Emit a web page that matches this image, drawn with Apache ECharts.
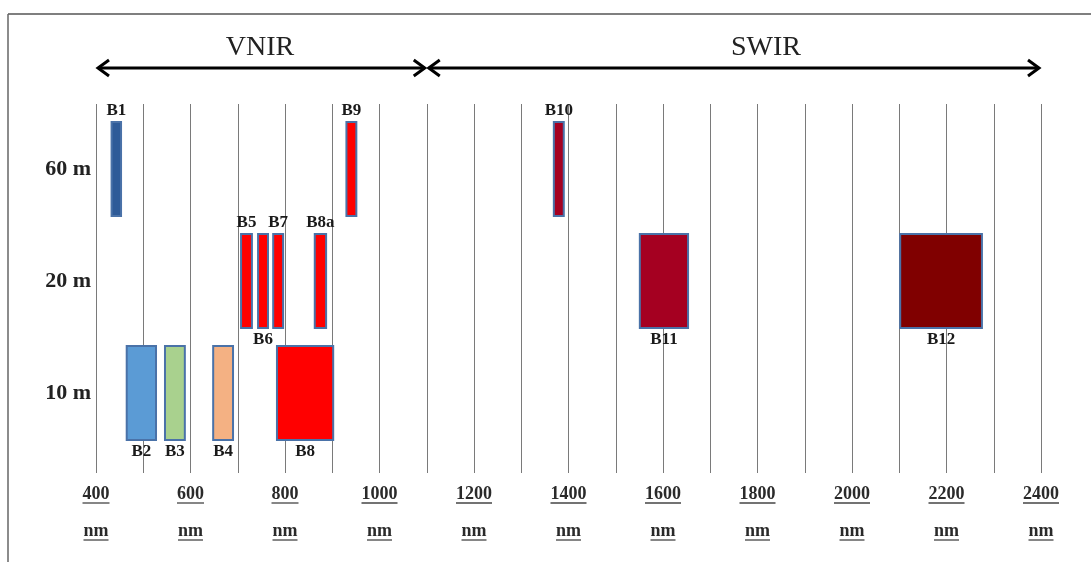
<!DOCTYPE html>
<html lang="en">
<head>
<meta charset="UTF-8">
<title>Sentinel-2 MSI bands</title>
<style>html,body{margin:0;padding:0;background:#fff}</style>
</head>
<body>
<div id="main" style="width:1091px;height:562px"></div>
<script src="https://cdn.jsdelivr.net/npm/echarts@6/dist/echarts.min.js"></script>
<script>
// spatial resolution rows (bottom to top)
var rows = ['10 m', '20 m', '60 m'];

// bands: wavelength range in nm and resolution row
var bandNames = ['B1', 'B2', 'B3', 'B4', 'B5', 'B6', 'B7', 'B8', 'B8a', 'B9', 'B10', 'B11', 'B12'];
var bandStart = [433, 465, 546, 648, 707, 743, 775, 783, 863, 930, 1369, 1551, 2102];
var bandEnd   = [453, 527, 588, 690, 730, 764, 796, 902, 887, 951, 1390, 1653, 2275];
var bandRes   = ['60 m', '10 m', '10 m', '10 m', '20 m', '20 m', '20 m', '10 m', '20 m', '60 m', '60 m', '20 m', '20 m'];
var bandColors = ['#2e5b98', '#5b9bd5', '#a9d18e', '#f4b183', '#ff0000', '#ff0000', '#ff0000', '#ff0000',
                  '#ff0000', '#ff0000', '#a50021', '#a50021', '#800000'];
var labelSide = ['top', 'bottom', 'bottom', 'bottom', 'top', 'bottom', 'top', 'bottom', 'top', 'top', 'top', 'bottom', 'bottom'];

// x tick labels
var tickValues = [400, 600, 800, 1000, 1200, 1400, 1600, 1800, 2000, 2200, 2400];
var tickUnit = 'nm';

// spectral regions shown by the arrows
var regionNames = ['VNIR', 'SWIR'];
var regionFrom = [400, 1100];
var regionTo = [1100, 2400];
var regionLabelAt = [747, 1818];

var SERIF = '"Liberation Serif", "Times New Roman", serif';
var ctx = document.createElement('canvas').getContext('2d');
function textWidth(t, font) {
    ctx.font = font;
    return ctx.measureText(t).width;
}

var bandData = [];
for (var i = 0; i < bandNames.length; i++) {
    bandData.push([bandStart[i], bandEnd[i], bandRes[i], i]);
}
var regionData = [];
for (var r = 0; r < regionNames.length; r++) {
    regionData.push([regionFrom[r], regionTo[r], regionLabelAt[r], r]);
}
var tickData = tickValues.map(function (v) { return [v, 0]; });

function renderBand(params, api) {
    var idx = api.value(3);
    var p0 = api.coord([api.value(0), api.value(2)]);
    var p1 = api.coord([api.value(1), api.value(2)]);
    var h = api.size([0, 1])[1] * 0.84;
    return {
        type: 'rect',
        shape: {x: p0[0], y: p0[1] - h / 2, width: p1[0] - p0[0], height: h},
        style: {fill: bandColors[idx], stroke: '#4a72a8', lineWidth: 2},
        textContent: {
            style: {text: bandNames[idx], font: 'bold 17px ' + SERIF, fill: '#1a1a1a'}
        },
        textConfig: {position: labelSide[idx], distance: 2}
    };
}

function renderRegion(params, api) {
    var idx = api.value(3);
    var x0 = api.coord([api.value(0), 0])[0];
    var x1 = api.coord([api.value(1), 0])[0];
    var xl = api.coord([api.value(2), 0])[0];
    var y = params.coordSys.y - 36;
    var s = {stroke: '#000', lineWidth: 3, fill: null, lineJoin: 'miter'};
    return {
        type: 'group',
        children: [
            {type: 'line', shape: {x1: x0 + 2, y1: y, x2: x1 - 2, y2: y}, style: s},
            {type: 'polyline', shape: {points: [[x0 + 13, y - 8], [x0 + 2, y], [x0 + 13, y + 8]]}, style: s},
            {type: 'polyline', shape: {points: [[x1 - 13, y - 8], [x1 - 2, y], [x1 - 13, y + 8]]}, style: s},
            {type: 'text', style: {text: regionNames[idx], x: xl, y: y - 20, align: 'center', verticalAlign: 'middle',
                font: '28px ' + SERIF, fill: '#222'}}
        ]
    };
}

function renderTick(params, api) {
    var x = api.coord([api.value(0), 0])[0];
    var yb = params.coordSys.y + params.coordSys.height;
    var font = 'bold 18px ' + SERIF;
    var children = [];
    [[String(api.value(0)), 21], [tickUnit, 58]].forEach(function (t) {
        var w = textWidth(t[0], font);
        children.push({type: 'text', style: {text: t[0], x: x, y: yb + t[1], align: 'center', verticalAlign: 'middle',
            font: font, fill: '#2a2a2a'}});
        children.push({type: 'line', shape: {x1: x - w / 2, y1: yb + t[1] + 9, x2: x + w / 2, y2: yb + t[1] + 9},
            style: {stroke: '#444', lineWidth: 1.3}});
    });
    return {type: 'group', children: children};
}

var chart = echarts.init(document.getElementById('main'));
chart.setOption({
    backgroundColor: '#fff',
    animation: false,
    graphic: [
        {type: 'line', shape: {x1: 8, y1: 14, x2: 1091, y2: 14}, style: {stroke: '#555', lineWidth: 1.5}},
        {type: 'line', shape: {x1: 8, y1: 14, x2: 8, y2: 562}, style: {stroke: '#666', lineWidth: 1.5}}
    ],
    grid: [
        {left: 96, right: 50, top: 104, bottom: 89},
        {left: 96, right: 50, top: 113, bottom: 113}
    ],
    xAxis: [
        {
            gridIndex: 0, type: 'value', min: 400, max: 2400, interval: 100,
            axisLine: {show: false}, axisTick: {show: false}, axisLabel: {show: false},
            splitLine: {show: true, lineStyle: {color: '#7a7a7a', width: 1}}
        },
        {
            gridIndex: 1, type: 'value', min: 400, max: 2400, interval: 100, show: false
        }
    ],
    yAxis: [
        {gridIndex: 0, type: 'value', min: 0, max: 1, show: false},
        {
            gridIndex: 1, type: 'category', data: rows,
            axisLine: {show: false}, axisTick: {show: false}, splitLine: {show: false},
            axisLabel: {margin: 5, fontFamily: 'Liberation Serif', fontWeight: 'bold', fontSize: 22, color: '#222'}
        }
    ],
    series: [
        {
            type: 'custom', name: 'regions', xAxisIndex: 0, yAxisIndex: 0,
            renderItem: renderRegion, data: regionData, silent: true
        },
        {
            type: 'custom', name: 'ticks', xAxisIndex: 0, yAxisIndex: 0,
            renderItem: renderTick, data: tickData, silent: true
        },
        {
            type: 'custom', name: 'bands', xAxisIndex: 1, yAxisIndex: 1,
            encode: {x: [0, 1], y: 2},
            renderItem: renderBand, data: bandData
        }
    ]
});
</script>
</body>
</html>
